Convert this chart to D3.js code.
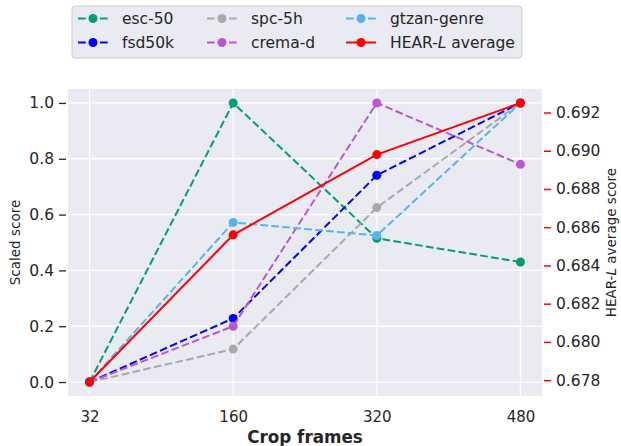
<!DOCTYPE html>
<html>
<head>
<meta charset="utf-8">
<script src="https://cdn.jsdelivr.net/npm/d3@7"></script>
<style>
  body { margin: 0; background: #fff; }
  svg { display: block; font-family: "DejaVu Sans", sans-serif; }
</style>
</head>
<body>
<svg id="chart" width="621" height="446"></svg>
<script>
// crop frame categories
const frames = ["32", "160", "320", "480"];

// scaled scores per task (0 = worst crop, 1 = best crop)
const esc50 = [0.0, 1.0, 0.515, 0.43];
const fsd50k = [0.0, 0.228, 0.741, 1.0];
const spc5h = [0.0, 0.118, 0.625, 1.0];
const cremad = [0.0, 0.2, 1.0, 0.78];
const gtzan = [0.0, 0.572, 0.525, 1.0];

// raw HEAR-L average score (right axis)
const hearAvg = [0.6779, 0.6856, 0.6898, 0.6925];
const rightTicks = [0.678, 0.680, 0.682, 0.684, 0.686, 0.688, 0.690, 0.692];
const leftTicks = [0.0, 0.2, 0.4, 0.6, 0.8, 1.0];

const series = [
    { name: "esc-50", values: esc50, color: "#009E73" },
    { name: "fsd50k", values: fsd50k, color: "#0000FF" },
    { name: "spc-5h", values: spc5h, color: "#A9A9A9" },
    { name: "crema-d", values: cremad, color: "#BA55D3" },
    { name: "gtzan-genre", values: gtzan, color: "#56B4E9" }
];

const svg = d3.select("#chart");
const margin = { left: 68, right: 542, top: 89, bottom: 396 };

// matplotlib style 5% margin on each side
const span = margin.right - margin.left;
const off = (span - span / 1.1) / 2;
const x = d3.scalePoint()
    .domain(frames)
    .range([margin.left + off, margin.right - off])
    .padding(0);

const y = d3.scaleLinear().domain([-0.05, 1.05]).range([margin.bottom, margin.top]);

const hMin = d3.min(hearAvg), hMax = d3.max(hearAvg), hR = hMax - hMin;
const yR = d3.scaleLinear().domain([hMin - 0.05 * hR, hMax + 0.05 * hR]).range([margin.bottom, margin.top]);

// plot background
svg.append("rect")
    .attr("x", margin.left).attr("y", margin.top)
    .attr("width", margin.right - margin.left)
    .attr("height", margin.bottom - margin.top)
    .attr("fill", "#EAEAF2");

// grid
const grid = svg.append("g").attr("stroke", "#fff").attr("stroke-width", 1.3);
grid.selectAll("line.h").data(leftTicks).enter().append("line")
    .attr("x1", margin.left).attr("x2", margin.right)
    .attr("y1", d => y(d)).attr("y2", d => y(d));
grid.selectAll("line.v").data(frames).enter().append("line")
    .attr("y1", margin.top).attr("y2", margin.bottom)
    .attr("x1", d => x(d)).attr("x2", d => x(d));

// left axis
const leftAxis = d3.axisLeft(y).tickValues(leftTicks).tickFormat(d3.format(".1f")).tickSize(7).tickPadding(5);
const gl = svg.append("g").attr("transform", `translate(${margin.left - 2},0)`).call(leftAxis);
gl.select(".domain").remove();
gl.selectAll(".tick line").attr("stroke", "#262626").attr("stroke-width", 1.3);
gl.selectAll(".tick text").attr("fill", "#262626").style("font-size", "15.5px").style("font-family", "DejaVu Sans");

// right axis
const rightAxis = d3.axisRight(yR).tickValues(rightTicks).tickFormat(d3.format(".3f")).tickSize(7).tickPadding(5);
const gr = svg.append("g").attr("transform", `translate(${margin.right + 2},0)`).call(rightAxis);
gr.select(".domain").remove();
gr.selectAll(".tick line").attr("stroke", "#FF0000").attr("stroke-width", 1.5);
gr.selectAll(".tick text").attr("fill", "#262626").style("font-size", "15.5px").style("font-family", "DejaVu Sans");

// bottom axis
const bottomAxis = d3.axisBottom(x).tickSize(0).tickPadding(15);
const gb = svg.append("g").attr("transform", `translate(0,${margin.bottom})`).call(bottomAxis);
gb.select(".domain").remove();
gb.selectAll(".tick text").attr("fill", "#262626").style("font-size", "15px").style("font-family", "DejaVu Sans");

// axis labels
svg.append("text")
    .attr("transform", `translate(20,${(margin.top + margin.bottom) / 2}) rotate(-90)`)
    .attr("text-anchor", "middle")
    .attr("fill", "#262626")
    .style("font-size", "13.5px")
    .text("Scaled score");

const rl = svg.append("text")
    .attr("transform", `translate(616,${(margin.top + margin.bottom) / 2}) rotate(-90)`)
    .attr("text-anchor", "middle")
    .attr("fill", "#262626")
    .style("font-size", "13.5px");
rl.append("tspan").text("HEAR-");
rl.append("tspan").attr("font-style", "italic").text("L");
rl.append("tspan").text(" average score");

svg.append("text")
    .attr("x", (margin.left + margin.right) / 2).attr("y", 443)
    .attr("text-anchor", "middle")
    .attr("fill", "#262626")
    .attr("font-weight", "bold")
    .style("font-size", "16.8px")
    .text("Crop frames");

// lines
const line = d3.line().x((d, i) => x(frames[i])).y(d => y(d));
const plot = svg.append("g");

series.forEach(s => {
    const g = plot.append("g");
    g.append("path")
        .attr("d", line(s.values))
        .attr("fill", "none")
        .attr("stroke", s.color)
        .attr("stroke-width", 2)
        .attr("stroke-dasharray", "7.7,3.3");
    g.selectAll("circle").data(s.values).enter().append("circle")
        .attr("cx", (d, i) => x(frames[i]))
        .attr("cy", d => y(d))
        .attr("r", 4.5)
        .attr("fill", s.color);
});

const lineR = d3.line().x((d, i) => x(frames[i])).y(d => yR(d));
const gRed = plot.append("g");
gRed.append("path")
    .attr("d", lineR(hearAvg))
    .attr("fill", "none")
    .attr("stroke", "#FF0000")
    .attr("stroke-width", 2);
gRed.selectAll("circle").data(hearAvg).enter().append("circle")
    .attr("cx", (d, i) => x(frames[i]))
    .attr("cy", d => yR(d))
    .attr("r", 4.5)
    .attr("fill", "#FF0000");

// legend
const legendItems = series.map(s => ({ name: s.name, color: s.color, dashed: true }))
    .concat([{ name: "HEAR-L average", color: "#FF0000", dashed: false }]);

const legend = svg.append("g");
legend.append("rect")
    .attr("x", 72).attr("y", 6)
    .attr("width", 450).attr("height", 52)
    .attr("rx", 3)
    .attr("fill", "#EAEAF2")
    .attr("stroke", "#CCCCCC")
    .attr("stroke-width", 1);

const colX = [78, 207, 346];
const rowY = [18.5, 42.5];

legendItems.forEach((d, i) => {
    const cx = colX[Math.floor(i / 2)];
    const cy = rowY[i % 2];
    const g = legend.append("g").attr("transform", `translate(${cx},${cy})`);
    g.append("line")
        .attr("x1", 0).attr("x2", 30)
        .attr("stroke", d.color)
        .attr("stroke-width", 2)
        .attr("stroke-dasharray", d.dashed ? "7.7,3.3" : null);
    g.append("circle").attr("cx", 15).attr("r", 4.5).attr("fill", d.color);
    const t = g.append("text")
        .attr("x", 44).attr("dy", "0.35em")
        .attr("fill", "#262626")
        .style("font-size", "15.5px");
    if (d.name === "HEAR-L average") {
        t.append("tspan").text("HEAR-");
        t.append("tspan").attr("font-style", "italic").text("L");
        t.append("tspan").text(" average");
    } else {
        t.text(d.name);
    }
});
</script>
</body>
</html>
